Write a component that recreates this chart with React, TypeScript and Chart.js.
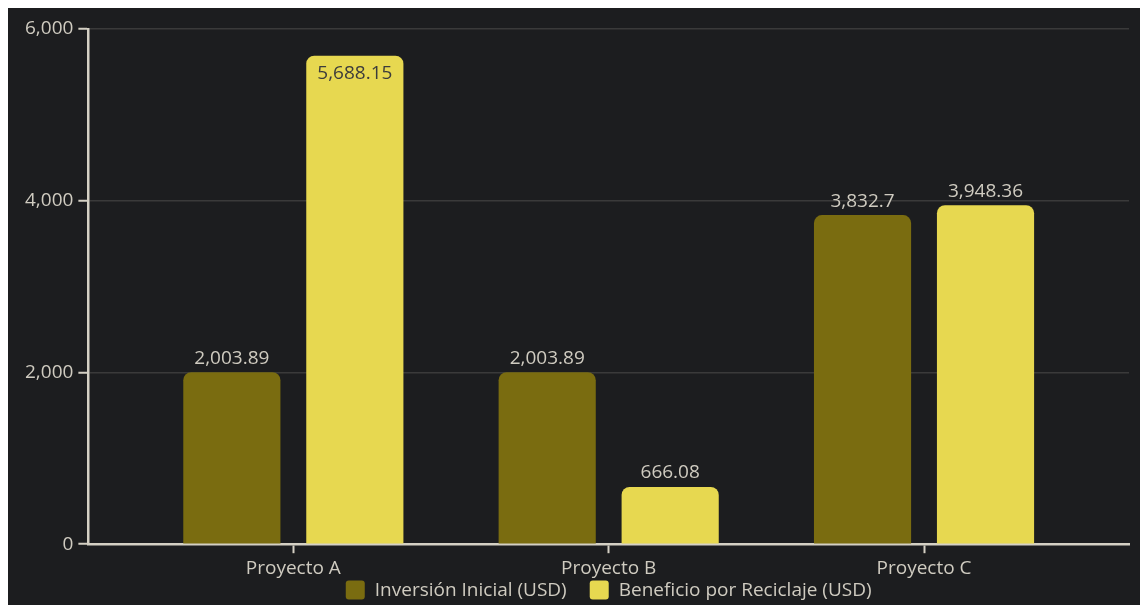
import React, { useEffect, useRef } from "react";
import { Chart, registerables } from "chart.js";

Chart.register(...registerables);

const CATEGORIES = ["Proyecto A", "Proyecto B", "Proyecto C"];
const SERIES_NAMES = ["Inversión Inicial (USD)", "Beneficio por Reciclaje (USD)"];
const INVERSION = [2003.89, 2003.89, 3832.7];
const BENEFICIO = [5688.15, 666.08, 3948.36];
const Y_TICKS = [0, 2000, 4000, 6000];

const BG = "#1c1d1f";
const TEXT = "#cfcbc0";
const AXIS = "#d4d0c4";
const GRID = "#3a3a3a";
const DARK = "#7a6c10";
const YELLOW = "#e7d850";
const FONT = "'Open Sans', Lato, sans-serif";

const fmt = (v: number) => v.toLocaleString("en-US", { maximumFractionDigits: 2 });

const valueLabels = {
  id: "valueLabels",
  afterDatasetsDraw(chart: any) {
    const { ctx, chartArea } = chart;
    ctx.save();
    ctx.font = `19px ${FONT}`;
    ctx.textAlign = "center";
    ctx.textBaseline = "middle";
    chart.data.datasets.forEach((ds: any, di: number) => {
      const meta = chart.getDatasetMeta(di);
      meta.data.forEach((el: any, i: number) => {
        const v = ds.data[i].y;
        const text = fmt(v);
        if (el.y - chartArea.top < 40) {
          ctx.fillStyle = "#3c3c3c";
          ctx.fillText(text, el.x, el.y + 18);
        } else {
          ctx.fillStyle = TEXT;
          ctx.fillText(text, el.x, el.y - 14);
        }
      });
    });
    ctx.restore();
  },
};

// Legend centred under the plot area
const bottomLegend = {
  id: "bottomLegend",
  afterDraw(chart: any) {
    const { ctx, chartArea } = chart;
    const box = 19;
    const textGap = 10;
    const itemGap = 23;
    ctx.save();
    ctx.font = `19px ${FONT}`;
    ctx.textBaseline = "middle";
    ctx.textAlign = "left";
    const items = chart.data.datasets.map((ds: any) => ({
      text: ds.label,
      color: ds.backgroundColor,
      w: box + textGap + ctx.measureText(ds.label).width,
    }));
    const total =
      items.reduce((s: number, it: any) => s + it.w, 0) + itemGap * (items.length - 1);
    let x = (chartArea.left + chartArea.right) / 2 - total / 2;
    const cy = chart.height - 15;
    items.forEach((it: any) => {
      ctx.fillStyle = it.color;
      ctx.beginPath();
      ctx.roundRect(x, cy - box / 2, box, box, 3);
      ctx.fill();
      ctx.fillStyle = TEXT;
      ctx.fillText(it.text, x + box + textGap, cy + 1);
      x += it.w + itemGap;
    });
    ctx.restore();
  },
};

export default function App() {
  const ref = useRef<HTMLCanvasElement>(null);
  useEffect(() => {
    if (!ref.current) return;
    const chart = new Chart(ref.current, {
      type: "bar",
      data: {
        datasets: [
          {
            label: SERIES_NAMES[0],
            data: INVERSION.map((y, x) => ({ x, y })),
            backgroundColor: DARK,
            borderRadius: 8,
          },
          {
            label: SERIES_NAMES[1],
            data: BENEFICIO.map((y, x) => ({ x, y })),
            backgroundColor: YELLOW,
            borderRadius: 8,
          },
        ],
      },
      options: {
        animation: false,
        responsive: true,
        maintainAspectRatio: false,
        datasets: { bar: { categoryPercentage: 0.78, barPercentage: 0.79 } },
        layout: { padding: { top: 21, right: 11, left: 12, bottom: 21 } },
        font: { family: FONT },
        scales: {
          x: {
            type: "linear",
            offset: false,
            min: -0.65,
            max: 2.65,
            afterBuildTicks: (axis: any) => {
              axis.ticks = CATEGORIES.map((_, i) => ({ value: i }));
            },
            ticks: {
              color: TEXT,
              font: { family: FONT, size: 19 },
              padding: 4,
              callback: (v: any) => CATEGORIES[v],
            },
            grid: {
              offset: false,
              drawOnChartArea: false,
              drawTicks: true,
              tickLength: 9,
              tickColor: AXIS,
              tickWidth: 2,
            },
            border: { color: AXIS, width: 2.5 },
          },
          y: {
            min: 0,
            max: 6000,
            afterBuildTicks: (axis: any) => {
              axis.ticks = Y_TICKS.map((value) => ({ value }));
            },
            ticks: {
              color: TEXT,
              font: { family: FONT, size: 19 },
              padding: 5,
              callback: (v: any) => fmt(Number(v)),
            },
            grid: {
              color: GRID,
              lineWidth: 1.5,
              tickLength: 10,
              tickColor: AXIS,
              tickWidth: 2,
            },
            border: { color: AXIS, width: 2.5 },
          },
        },
        plugins: {
          legend: { display: false },
          tooltip: { enabled: false },
        },
      },
      plugins: [valueLabels, bottomLegend],
    });
    return () => chart.destroy();
  }, []);
  return (
    <div
      style={{
        position: "fixed",
        left: 8,
        top: 8,
        right: 0,
        bottom: 0,
        background: BG,
      }}
    >
      <canvas ref={ref} />
    </div>
  );
}
